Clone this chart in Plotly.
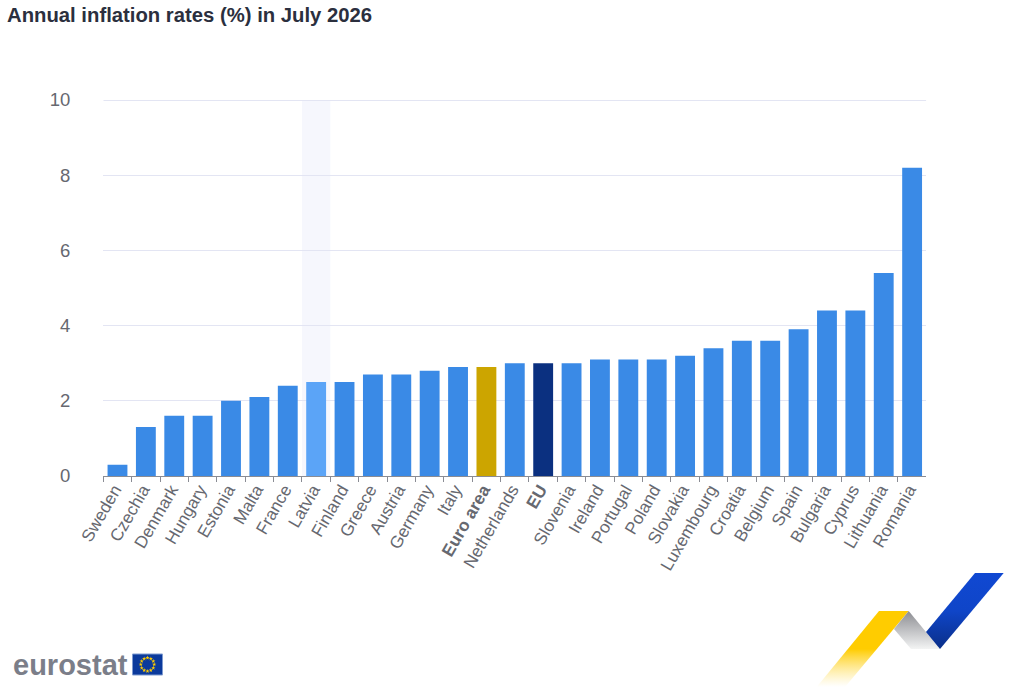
import numpy as np
import plotly.graph_objects as go

countries = ['Sweden', 'Czechia', 'Denmark', 'Hungary', 'Estonia', 'Malta', 'France', 'Latvia',
             'Finland', 'Greece', 'Austria', 'Germany', 'Italy', 'Euro area', 'Netherlands', 'EU',
             'Slovenia', 'Ireland', 'Portugal', 'Poland', 'Slovakia', 'Luxembourg', 'Croatia',
             'Belgium', 'Spain', 'Bulgaria', 'Cyprus', 'Lithuania', 'Romania']
rates = [0.3, 1.3, 1.6, 1.6, 2.0, 2.1, 2.4, 2.5, 2.5, 2.7, 2.7, 2.8, 2.9, 2.9, 3.0, 3.0, 3.0,
         3.1, 3.1, 3.1, 3.2, 3.4, 3.6, 3.6, 3.9, 4.4, 4.4, 5.4, 8.2]
y_ticks = [0, 2, 4, 6, 8, 10]

special_colours = {'Latvia': '#5ba4f7', 'Euro area': '#cca500', 'EU': '#0b3080'}
bar_colours = [special_colours.get(c, '#3a8ae6') for c in countries]
x_labels = ['<b>%s</b>' % c if c in ('Euro area', 'EU') else c for c in countries]

W, H = 1028, 687
grey = '#666870'
grid = '#e3e5f3'
sans = 'Liberation Sans, Arial, sans-serif'

fig = go.Figure()

# Bars
fig.add_trace(go.Bar(x=x_labels, y=rates, marker=dict(color=bar_colours, line=dict(width=0)),
                     hoverinfo='x+y', showlegend=False))

# Logo ribbons, drawn on a second pair of axes that count in page pixels
ribbons = [
    ([879, 908.7, 845, 816.7, 879], [611, 611, 687, 687, 611],
     [[0, 'rgba(255,255,255,0.6)'], [0.5, '#ffcc00'], [1, '#ffcc00']]),
    ([908.7, 940, 911, 894, 908.7], [611, 649, 649, 629, 611],
     [[0, '#f3f4f4'], [1, '#8c8d92']]),
    ([975, 1003.7, 940, 926, 975], [573, 573, 649, 632, 573],
     [[0, '#0a2f88'], [0.5, '#0f45c8'], [1, '#1048d2']]),
]
for rx, ry, scale in ribbons:
    fig.add_trace(go.Scatter(x=rx, y=ry, xaxis='x2', yaxis='y2', mode='lines',
                             line=dict(width=0), fill='toself', hoverinfo='skip', showlegend=False,
                             fillgradient=dict(type='vertical', colorscale=scale)))

# Stars of the flag in the logo
angles = np.arange(12) * np.pi / 6
fig.add_trace(go.Scatter(x=147.5 + 6.7 * np.cos(angles), y=664.5 + 6.7 * np.sin(angles),
                         xaxis='x2', yaxis='y2', mode='markers', hoverinfo='skip', showlegend=False,
                         marker=dict(symbol='star', size=3.2, color='#ffcc00', line=dict(width=0))))

fig.update_layout(
    width=W, height=H,
    margin=dict(l=0, r=0, t=0, b=0, autoexpand=False),
    paper_bgcolor='white', plot_bgcolor='rgba(0,0,0,0)',
    bargap=0.3,
    font=dict(family=sans, color=grey),
    title=dict(text='<b>Annual inflation rates (%) in July 2026</b>', x=7 / W, xanchor='left',
               xref='paper', y=1 - 15 / H, yanchor='middle',
               font=dict(size=20.3, color='#2b2f3e', family=sans)),
    xaxis=dict(domain=[103.3 / W, 926.3 / W], anchor='y', type='category', categoryorder='array',
               categoryarray=x_labels, range=[-0.5, 28.5], tickangle=-60,
               tickfont=dict(size=17.2, color=grey),
               ticks='outside', ticklen=5, tickwidth=1, tickcolor='#8a8c94', tickson='boundaries',
               ticklabelstandoff=-4, ticklabelshift=-3,
               showline=True, linecolor='#8a8c94', linewidth=1, showgrid=False, zeroline=False),
    yaxis=dict(domain=[1 - 476 / H, 1 - 100 / H], anchor='x', range=[0, 10], tickvals=y_ticks,
               tickfont=dict(size=18.5, color=grey), gridcolor=grid, gridwidth=1,
               zeroline=False, showline=False, ticks='', ticklabelstandoff=32),
    xaxis2=dict(domain=[0, 1], range=[0, W], anchor='y2', visible=False),
    yaxis2=dict(domain=[0, 1], range=[H, 0], anchor='x2', visible=False),
    shapes=[
        # Band behind Latvia
        dict(type='rect', xref='x', yref='y', x0=6.5, x1=7.5, y0=0, y1=10, layer='below',
             fillcolor='#f6f7fd', line=dict(width=0)),
        # plotly drops the gridline on the top edge, half of this one gets clipped
        dict(type='line', xref='x', yref='y', x0=-0.5, x1=28.5, y0=10, y1=10, layer='below',
             line=dict(width=2, color=grid)),
        # Flag in the logo
        dict(type='rect', xref='x2', yref='y2', x0=132.5, x1=162.5, y0=654, y1=675,
             fillcolor='#0b3a9c', line=dict(width=1, color='#7f9bd0'), layer='below'),
    ],
    annotations=[
        dict(text='<b>eurostat</b>', xref='paper', yref='paper', x=11 / W, y=1 - 665 / H,
             xanchor='left', yanchor='middle', showarrow=False,
             font=dict(size=29, color='#7b7e89', family=sans)),
    ],
)

fig.write_html('out.html', config=dict(displayModeBar=False),
               post_script="document.body.style.margin='0';")
